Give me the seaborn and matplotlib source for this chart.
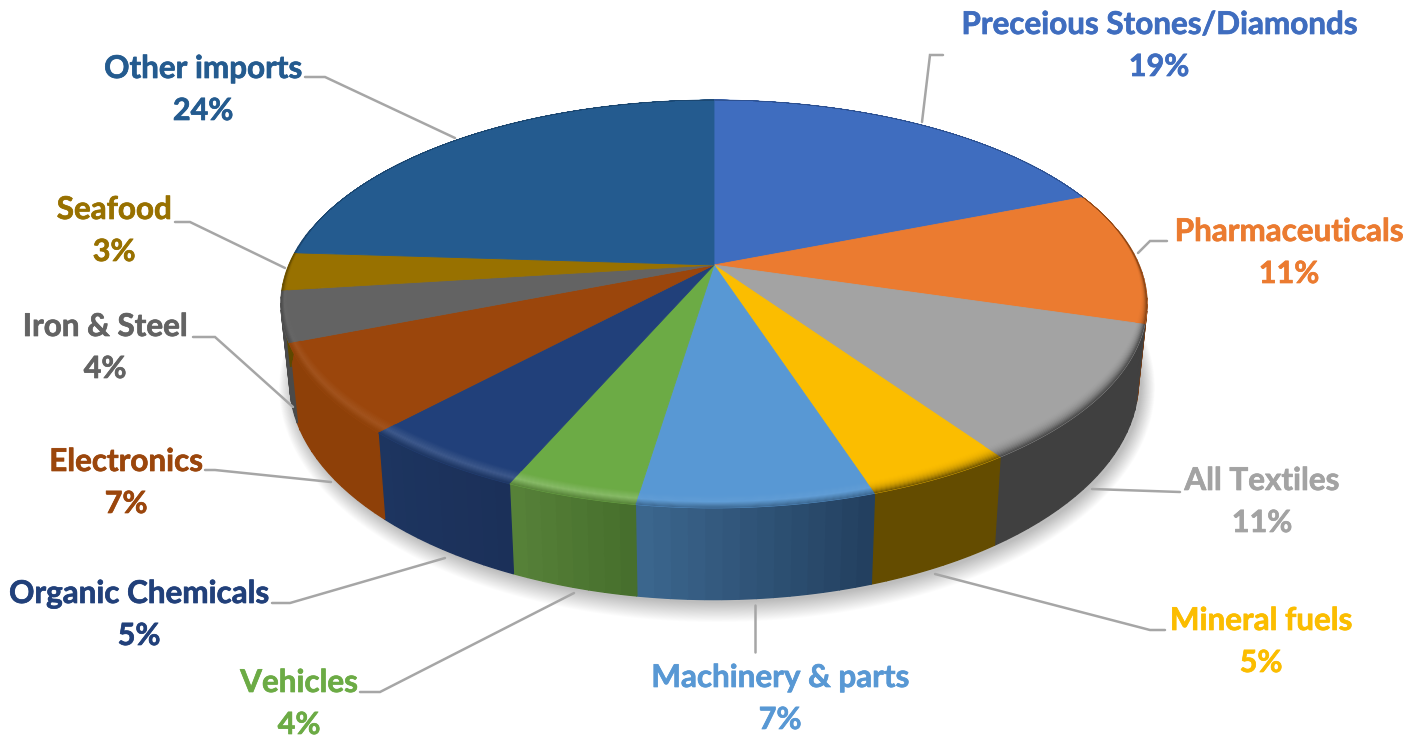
import numpy as np
import matplotlib
matplotlib.use("Agg")
import matplotlib.pyplot as plt
import matplotlib.colors as mc
import matplotlib.patheffects as pe
import seaborn as sns

# ---- data -----------------------------------------------------------------
categories = ["Preceious Stones/Diamonds", "Pharmaceuticals", "All Textiles", "Mineral fuels",
              "Machinery & parts", "Vehicles", "Organic Chemicals", "Electronics",
              "Iron & Steel", "Seafood", "Other imports"]
shares = [19.0, 10.6, 10.8, 4.6, 7.4, 4.1, 5.4, 7.1, 4.0, 3.0, 24.0]

top_colors = ["#3F6DBF", "#EB7B30", "#A3A3A3", "#FBBD00", "#5898D4", "#6CAB45",
              "#21407A", "#9B460C", "#636363", "#987100", "#245B8F"]
wall_left = ["#2A4A85", "#7A3D12", "#404040", "#644C00", "#3C678F", "#578239",
             "#1D3560", "#8E4008", "#4A4A4A", "#5E4800", "#1A4268"]
wall_right = ["#2A4A85", "#7A3D12", "#404040", "#644C00", "#223F5E", "#466E2C",
              "#1B3059", "#8E4008", "#4A4A4A", "#5E4800", "#1A4268"]
rim_glow = [0.0, 0.0, 0.0, 0.0, 0.06, 0.2, 0.14, 0.08, 0.03, 0.0, 0.0]

label_xy = [(1159, 25), (1289, 232), (1262, 481), (1261, 621), (780, 678), (299, 683),
            (139, 594), (126, 462), (105, 327), (114, 210), (203, 69)]
leaders = [[(922, 122), (930, 55), (943, 55)],
           [(1138, 253), (1150, 241), (1167, 241)],
           [(1092, 489), (1180, 492)],
           [(935, 574), (1150, 630), (1165, 630)],
           [(755, 605), (755, 652)],
           [(574, 593), (380, 692), (360, 692)],
           [(445, 558), (290, 603), (272, 603)],
           [(331, 482), (215, 470), (205, 470)],
           [(293, 407), (215, 337), (193, 337)],
           [(285, 268), (190, 222), (175, 222)],
           [(455, 138), (325, 77), (305, 77)]]

# ---- perspective geometry of the disc ---------------------------------------
CX, CY = 714, 265
R_TOP, S_TOP, PERSP = 425.0, 196.5, 0.191
R_BOT, S_BOT, DROP = 0.98 * 425.0, 210.0, 75.0


def plane(frac, r=1.0, bottom=False):
    a = 2 * np.pi * np.asarray(frac)
    u, v = r * np.sin(a), r * np.cos(a)
    w = 1 + PERSP * v
    if bottom:
        return CX + R_BOT * u / w, CY + DROP - S_BOT * v / w
    return CX + R_TOP * u / w, CY - S_TOP * v / w


def blend(c1, c2, t):
    a, b = np.array(mc.to_rgb(c1)), np.array(mc.to_rgb(c2))
    return tuple(a + (b - a) * t)


sns.set_theme(style="white")
plt.rcParams["font.family"] = ["Lato", "DejaVu Sans"]
fig = plt.figure(figsize=(14.22, 7.37), dpi=100, facecolor="white")
ax = fig.add_axes([0, 0, 1, 1])
ax.set_xlim(0, 1422)
ax.set_ylim(737, 0)
ax.axis("off")

palette = sns.color_palette(top_colors)
edges = np.concatenate([[0], np.cumsum(shares)]) / np.sum(shares)

# soft ground shadow
ring = np.linspace(0, 1, 361)
for k in np.linspace(0, 1, 22):
    sx, sy = plane(ring, bottom=True)
    sx = CX + (sx - CX) * (1.0 + 0.032 * (1 - k)) + 3
    sy = CY + DROP + (sy - CY - DROP) * (1.0 + 0.075 * (1 - k)) + 3
    ax.fill(sx, sy, color="black", alpha=0.013, lw=0, zorder=1)

# side wall, strip by strip (only the part that faces the viewer)
for i, (f0, f1) in enumerate(zip(edges[:-1], edges[1:])):
    n = max(4, int((f1 - f0) * 200))
    ts = np.linspace(f0, f1, n + 1)
    for j in range(n):
        if np.cos(2 * np.pi * (ts[j] + ts[j + 1]) / 2) > 0.2:
            continue
        seg = np.linspace(ts[j], ts[j + 1], 5)
        tx, ty = plane(seg)
        bx, by = plane(seg, bottom=True)
        col = blend(wall_right[i], wall_left[i], (j + 0.5) / n)
        ax.fill(np.r_[tx, bx[::-1]], np.r_[ty, by[::-1]], color=col, lw=1.0, ec=col, zorder=2)

# top surface
for i, (f0, f1) in enumerate(zip(edges[:-1], edges[1:])):
    ts = np.linspace(f0, f1, 80)
    ax_, ay_ = plane(ts)
    ax.fill(np.r_[CX, ax_], np.r_[CY, ay_], color=palette[i], lw=0.6, ec=palette[i], zorder=3)

# bevel along the front rim: bands run towards the apex, so they end on the seams
BANDS = 14
BEVEL = 0.055
for i, (f0, f1) in enumerate(zip(edges[:-1], edges[1:])):
    ts = np.linspace(f0, f1, 60)
    rx, ry = plane(ts)
    amount = BEVEL * (np.clip(-np.cos(2 * np.pi * ts) + 0.3, 0, 1.1) / 1.1) ** 1.5
    peak = blend(palette[i], "white", rim_glow[i])
    for b in range(BANDS):
        t0, t1 = b / BANDS, (b + 1) / BANDS
        t = (t0 + t1) / 2
        if rim_glow[i] > 0:
            col = blend(palette[i], peak, t / 0.55) if t < 0.55 else blend(peak, wall_left[i], (t - 0.55) / 0.45)
        else:
            col = blend(palette[i], wall_left[i], t ** 2.5)
        g0, g1 = amount * (1 - t0), amount * (1 - t1)
        xa, ya = rx + (CX - rx) * g0, ry + (CY - ry) * g0
        xb, yb = rx + (CX - rx) * g1, ry + (CY - ry) * g1
        ax.fill(np.r_[xa, xb[::-1]], np.r_[ya, yb[::-1]], color=col, lw=0.2, ec=col, zorder=4)

# leader lines
for pts in leaders:
    xs, ys = zip(*pts)
    ax.plot(xs, ys, color="#A6A6A6", lw=1.8, zorder=5, solid_joinstyle="miter")

# labels
for name, val, col, (lx, ly) in zip(categories, shares, palette, label_xy):
    stroke = [pe.withStroke(linewidth=0.5, foreground=col)]
    ax.text(lx, ly, name, color=col, fontsize=22.6, fontweight="bold", ha="center", va="center",
            zorder=6, path_effects=stroke)
    ax.text(lx, ly + 42, f"{round(val)}%", color=col, fontsize=22, fontweight="bold",
            ha="center", va="center", zorder=6, path_effects=stroke)

fig.savefig("out.png", dpi=100, facecolor="white")
